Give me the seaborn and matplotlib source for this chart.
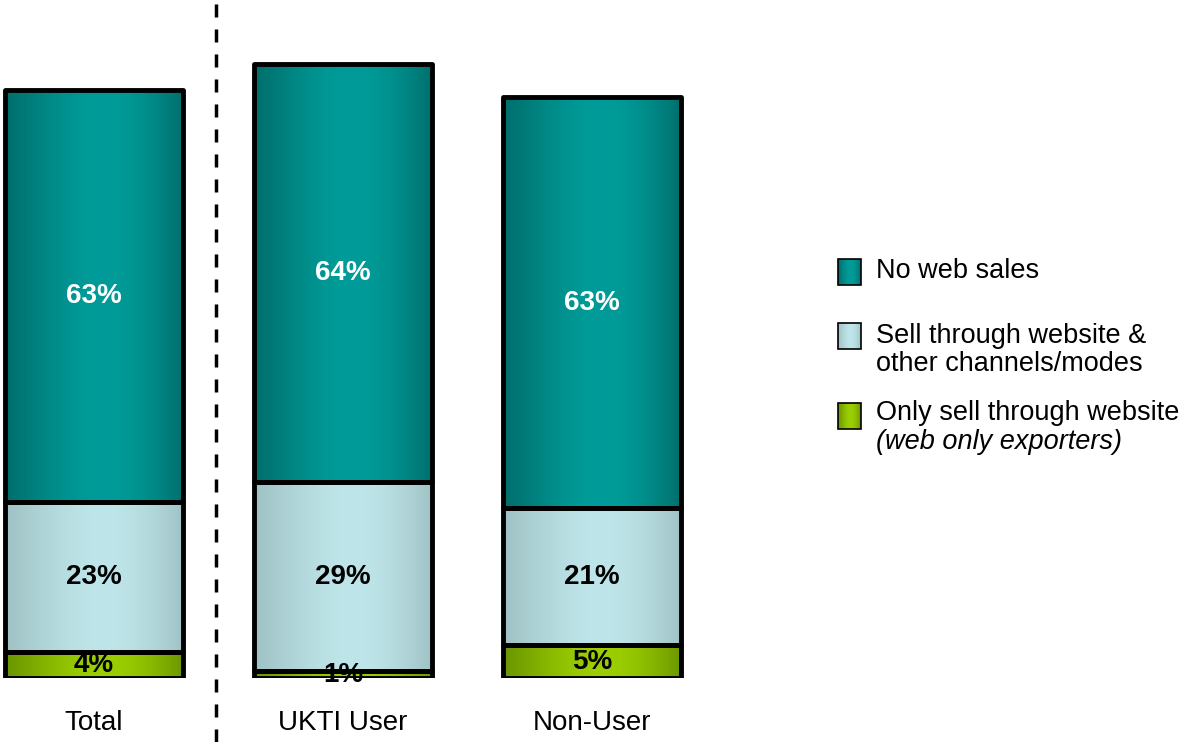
import numpy as np
import matplotlib
matplotlib.use("Agg")
import matplotlib.pyplot as plt
import seaborn as sns
from matplotlib.colors import to_rgb
from matplotlib.patches import Rectangle

# ================= data =================
categories = ["Total", "UKTI User", "Non-User"]
web_only = [4, 1, 5]            # Only sell through website
web_and_other = [23, 29, 21]    # Sell through website & other channels/modes
no_web = [63, 64, 63]           # No web sales

legend_labels = ["No web sales",
                 "Sell through website &\nother channels/modes",
                 "Only sell through website"]
legend_note = "(web only exporters)"

# (dark edge, light centre) for each layer
TEAL = ("#006F6C", "#009C99")
ICE = ("#A0C2C5", "#BEE5E9")
LIME = ("#6C9600", "#9BCF00")

W, H = 1185, 742
sns.set_theme(style="white")
plt.rcParams["font.family"] = ["Liberation Sans", "DejaVu Sans"]

fig = plt.figure(figsize=(W / 100, H / 100), dpi=100)
ax = fig.add_axes([0, 64 / H, 800 / W, 678 / H])


def gradient(dark, light, n=256):
    t = np.linspace(0, 1, n)
    f = np.sin(np.pi * t ** 1.16)
    d, l = np.array(to_rgb(dark)), np.array(to_rgb(light))
    return (d + (l - d) * f[:, None])[None, :, :]


layers = [(web_only, LIME, "black"),
          (web_and_other, ICE, "black"),
          (no_web, TEAL, "white")]

bottom = np.zeros(len(categories))
for vals, (dark, light), txt_col in layers:
    n_before = len(ax.patches)
    sns.barplot(x=categories, y=vals, bottom=bottom, color=light, width=0.715,
                edgecolor="black", linewidth=3.5, errorbar=None, ax=ax,
                saturation=1)
    for p in ax.patches[n_before:]:
        x0, y0 = p.get_x(), p.get_y()
        w, h = p.get_width(), p.get_height()
        im = ax.imshow(gradient(dark, light), extent=(x0, x0 + w, y0, y0 + h),
                       aspect="auto", zorder=2, interpolation="bilinear")
        im.set_clip_path(p)
        p.set_facecolor("none")
        p.set_zorder(3)
        p.set_joinstyle("round")
    for i, v in enumerate(vals):
        ax.text(i, bottom[i] + v / 2, f"{v}%", ha="center", va="center",
                fontsize=20, fontweight="bold", color=txt_col, zorder=2.5)
    bottom += np.array(vals)

ax.set_xlim(-94 / 249, (800 - 94) / 249)
ax.set_ylim(0, 678 / 6.53)
ax.set_xticks(range(len(categories)), categories)
ax.tick_params(axis="x", length=0, pad=23, labelsize=20, colors="black")
ax.set_yticks([])
ax.set_xlabel("")
ax.set_ylabel("")
for s in ax.spines.values():
    s.set_visible(False)

# dashed separator between Total and the two groups
ax.axvline((216 - 94) / 249, ymin=-64 / 678, ymax=1, clip_on=False,
           color="black", linewidth=2.5, linestyle=(0, (3.75, 3.45)), zorder=1)

# ---- legend drawn in pixel space ----
lg = fig.add_axes([0, 0, 1, 1])
lg.set_xlim(0, W)
lg.set_ylim(H, 0)
lg.axis("off")
handle_y = [259, 323, 403]
text_y = [[271], [336, 364], [413]]
for (dark, light), hy, lab, ty in zip([TEAL, ICE, LIME], handle_y, legend_labels, text_y):
    r = Rectangle((838, hy), 23, 26, facecolor="none", edgecolor="black", linewidth=1.2, zorder=3)
    lg.add_patch(r)
    im = lg.imshow(gradient(dark, light), extent=(838, 861, hy + 26, hy), aspect="auto", zorder=2)
    im.set_clip_path(r)
    for line, yy in zip(lab.split("\n"), ty):
        lg.text(876, yy, line, ha="left", va="center", fontsize=19.5, color="black")
lg.text(876, 442, legend_note, ha="left", va="center", fontsize=19.5, style="italic", color="black")
lg.set_xlim(0, W)
lg.set_ylim(H, 0)

fig.savefig("out.png", dpi=100)
